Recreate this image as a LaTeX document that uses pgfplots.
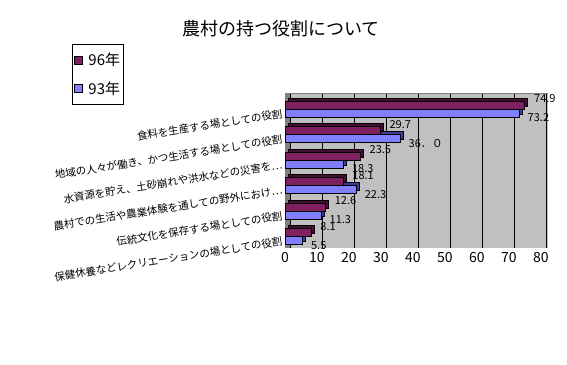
\documentclass[border=0pt]{standalone}
\usepackage{pgfplots}
\pgfplotsset{compat=1.18}
\usepackage{pgfplotstable}
\usepackage{fontspec}
\setmainfont{Noto Sans CJK JP}
\definecolor{c96}{RGB}{128,32,96}
\definecolor{c96d}{RGB}{70,14,50}
\definecolor{c93}{RGB}{128,128,255}
\definecolor{c93d}{RGB}{60,60,150}
\definecolor{wall}{RGB}{192,192,192}
\definecolor{wallside}{RGB}{128,128,128}
\pgfplotstableread{
y v96 v93 l96 l93
5 74.9 73.2 74.9 73.2
4 29.7 36.0 29.7 36．０
3 23.5 18.3 23.5 18.3
2 18.1 22.3 18.1 22.3
1 12.6 11.3 12.6 11.3
0 8.1 5.5 8.1 5.5
}\data
\begin{document}
\begin{tikzpicture}
\path[use as bounding box] (0pt,0pt) rectangle (567pt,364pt);
\node[font=\fontsize{18}{20}\selectfont] at (281pt,335pt) {農村の持つ役割について};
\begin{axis}[
 at={(285pt,116pt)}, anchor=south west,
 scale only axis, width=263pt, height=155pt,
 xbar, bar width=8pt,
 xmin=0, xmax=82.2, ymin=-0.45, ymax=5.63,
 xtick={0,10,...,80},
 ytick={0,...,5},
 yticklabels={保健休養などレクリエーションの場としての役割,伝統文化を保存する場としての役割,農村での生活や農業体験を通しての野外におけ\ldots,水資源を貯え、土砂崩れや洪水などの災害を\ldots,地域の人々が働き、かつ生活する場としての役割,食料を生産する場としての役割},
 yticklabel style={rotate=9, anchor=east, yshift=-4pt, font=\fontsize{10.5}{12}\selectfont},
 xticklabel style={font=\fontsize{14}{16}\selectfont, yshift=-1pt},
 /pgf/number format/assume math mode=true,
 major tick length=0pt,
 axis background/.style={fill=wall},
 axis line style={draw=none},
 xmajorgrids, major grid style={black, xshift=5pt},
 reverse legend,
 legend style={at={(-0.809,1.316)}, anchor=north west, draw=black, fill=white,
   font=\fontsize{15}{16}\selectfont, inner xsep=1pt, inner ysep=7pt, row sep=10pt},
 legend cell align=left,
 legend image code/.code={\path[draw=none,fill=none] (0pt,0pt) -- (13pt,0pt); \draw[#1,draw=black] (1pt,-4pt) rectangle (9pt,4pt);},
]
\fill[wallside] (rel axis cs:0,0) rectangle ([xshift=5pt]rel axis cs:0,1);
\draw[gray] (rel axis cs:0,0) -- (rel axis cs:0,1) -- (rel axis cs:1,1);
\addplot[fill=c93d, draw=black, bar shift=-1pt, xshift=3pt, forget plot] table[x=v93,y=y]{\data};
\addplot[fill=c93, draw=black, bar shift=-4pt,
  nodes near coords, point meta=explicit symbolic,
  nodes near coords style={anchor=west, xshift=5pt, yshift=-5pt, font=\fontsize{11}{12}\selectfont, text=black}]
  table[x=v93,y=y,meta=l93]{\data};
\addlegendentry{93年}
\addplot[fill=c96d, draw=black, bar shift=7pt, xshift=3pt, forget plot] table[x=v96,y=y]{\data};
\addplot[fill=c96, draw=black, bar shift=4pt,
  nodes near coords, point meta=explicit symbolic,
  nodes near coords style={anchor=west, xshift=6pt, yshift=6pt, font=\fontsize{11}{12}\selectfont, text=black}]
  table[x=v96,y=y,meta=l96]{\data};
\addlegendentry{96年}
\draw[black] (rel axis cs:0,0) -- (rel axis cs:0.98,0);
\end{axis}
\end{tikzpicture}
\end{document}
